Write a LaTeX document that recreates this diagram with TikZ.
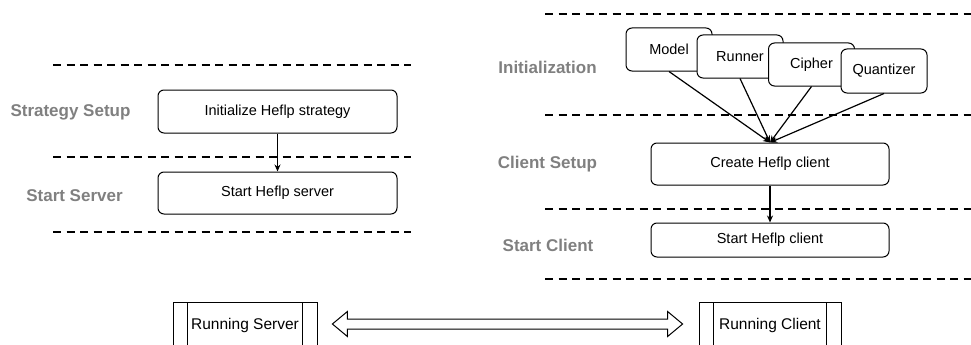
\documentclass[tikz,border=0pt]{standalone}
\usepackage{fontspec}
\setmainfont{Liberation Sans}
\usetikzlibrary{arrows.meta,calc}
\definecolor{lanegray}{HTML}{808080}
\tikzset{
  stepbox/.style={draw, rounded corners=6pt, line width=1pt, fill=white,
    font=\fontsize{14.5}{17}\selectfont, inner sep=0pt},
  lane/.style={font=\bfseries\fontsize{17}{20}\selectfont, text=lanegray},
  sepline/.style={line width=1.8pt, dash pattern=on 8pt off 5.5pt},
  arr/.style={line width=1.2pt, -{Stealth[length=7pt,width=6pt]}},
  procbox/.style={draw, line width=0.8pt, fill=white, inner xsep=0pt, inner ysep=0pt,
    text height=27pt, text depth=31pt, anchor=north,
    font=\fontsize{15.5}{18}\selectfont},
}
\begin{document}
\begin{tikzpicture}[x=1pt,y=-1pt]
\useasboundingbox (0,0) rectangle (971,345);
\clip (0,0) rectangle (971,345);

% ---- server side ----
\draw[sepline] (53,65) -- (411,65);
\draw[sepline] (53,157) -- (411,157);
\draw[sepline] (53,232) -- (411,232);

\node[lane] (lstrat) at (70.5,112) {Strategy Setup};
\node[lane] (lserver) at (74.5,196) {Start Server};

\node[stepbox, minimum width=239pt, minimum height=43pt] (init) at (277.5,111.5) {Initialize Heflp strategy};
\node[stepbox, minimum width=239pt, minimum height=42pt] (srvstart) at (277.5,193) {Start Heflp server};
\draw[arr] (init.south) -- (srvstart.north);

% ---- client side ----
\draw[sepline] (545,14) -- (971,14);
\draw[sepline] (545,115) -- (971,115);
\draw[sepline] (545,209) -- (971,209);
\draw[sepline] (545,279) -- (971,279);

\node[lane] (linit) at (547.5,67) {Initialization};
\node[lane] (lcsetup) at (547.5,164) {Client Setup};
\node[lane] (lcstart) at (548,245) {Start Client};

\node[stepbox, minimum width=86pt, minimum height=43pt] (model) at (669,49.5) {Model};
\node[stepbox, minimum width=86pt, minimum height=43pt] (runner) at (740,56.5) {Runner};
\node[stepbox, minimum width=86pt, minimum height=43pt] (cipher) at (811.5,64.5) {Cipher};
\node[stepbox, minimum width=86pt, minimum height=44pt] (quant) at (884,71) {Quantizer};

\node[stepbox, minimum width=238pt, minimum height=42pt] (create) at (770,164) {Create Heflp client};
\node[stepbox, minimum width=238pt, minimum height=34pt] (cstart) at (770,240) {Start Heflp client};

\foreach \n in {model,runner,cipher,quant}
  \draw[arr] (\n.south) -- (create.north);
\draw[arr] (create.south) -- (cstart.north);

% ---- running processes ----
\node[procbox, minimum width=144pt] (srv) at (245,302) {Running Server};
\node[procbox, minimum width=142pt] (cli) at (770,302) {Running Client};
\foreach \n in {srv,cli} {
  \draw[line width=0.8pt] ([xshift=15pt]\n.north west) -- ([xshift=15pt]\n.south west);
  \draw[line width=0.8pt] ([xshift=-15pt]\n.north east) -- ([xshift=-15pt]\n.south east);
}

% two-way link between the running processes
\coordinate (a1) at ($(srv.north east)+(15,22)$);
\coordinate (a2) at ($(cli.north west)+(-16,22)$);
\draw[line width=1pt, fill=white, line join=miter]
  (a1) -- ($(a1)+(15,-12.5)$) -- ($(a1)+(15,-5)$) -- ($(a2)+(-15,-5)$)
  -- ($(a2)+(-15,-12.5)$) -- (a2) -- ($(a2)+(-15,12.5)$) -- ($(a2)+(-15,5)$)
  -- ($(a1)+(15,5)$) -- ($(a1)+(15,12.5)$) -- cycle;
\end{tikzpicture}
\end{document}
